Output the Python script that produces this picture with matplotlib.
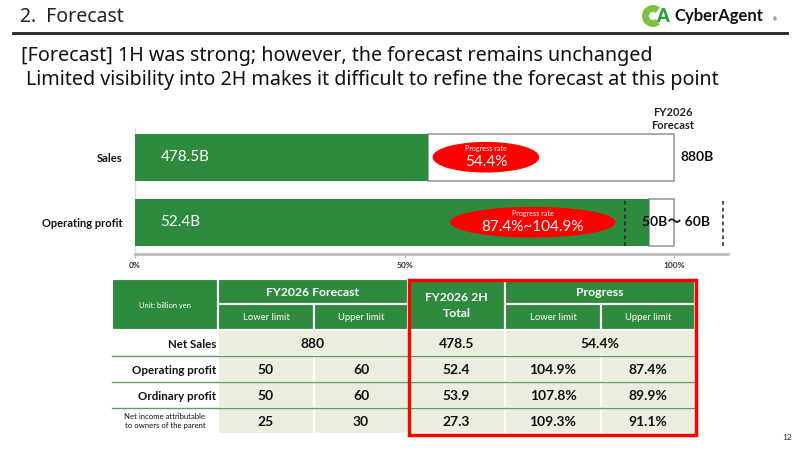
import matplotlib
matplotlib.use("Agg")
import matplotlib.pyplot as plt
import matplotlib.patches as mpatches
import numpy as np

plt.rcParams['font.family'] = ['Lato', 'Noto Sans CJK JP', 'DejaVu Sans']

# ---- data ----
categories = ["Sales", "Operating profit"]
actual_b = [478.5, 52.4]
fc_low_b = [880, 50]
fc_high_b = [880, 60]
bar_labels = ["478.5B", "52.4B"]
fc_labels = ["880B", "50B〜 60B"]
progress_text = ["54.4%", "87.4%~104.9%"]

row_labels = ["Net Sales", "Operating profit", "Ordinary profit",
              "Net income attributable\nto owners of the parent"]
tbl_lower = [880, 50, 50, 25]
tbl_upper = [880, 60, 60, 30]
tbl_2h = [478.5, 52.4, 53.9, 27.3]
prog_lower = [54.4, 104.9, 107.8, 109.3]
prog_upper = [54.4, 87.4, 89.9, 91.1]

GREEN = '#2E8B3E'
BEIGE = '#EBEEDF'
RED = '#FF0000'
HEAD_FONT = ['Noto Sans', 'DejaVu Sans']

fig = plt.figure(figsize=(8, 4.5), dpi=100)

# overlay in pixel coordinates for the slide layout
ov = fig.add_axes([0, 0, 1, 1])
ov.set_xlim(0, 800)
ov.set_ylim(450, 0)
ov.axis('off')

# header
ov.text(20, 17, "2.  Forecast", fontsize=14, va='center', ha='left', weight='medium',
        color='#222222', family=HEAD_FONT)
ov.plot([13, 787], [33, 33], color='#222222', lw=2)
# logo mark
ov.add_patch(mpatches.Arc((653, 16), 15, 15, theta1=50, theta2=310, color='#7DC242', lw=5))
ov.text(656, 16.5, "A", fontsize=13, weight='heavy', color='#2FA03A', va='center', ha='left')
ov.text(674, 16, "CyberAgent", fontsize=12, weight='bold', color='#111111', va='center', ha='left')
ov.text(773, 20, "®", fontsize=3.5, color='#111111', va='center', ha='left')

ov.text(21, 56, "[Forecast] 1H was strong; however, the forecast remains unchanged",
        fontsize=14.2, va='center', ha='left', color='#111111', weight='medium', family=HEAD_FONT)
ov.text(26, 80, "Limited visibility into 2H makes it difficult to refine the forecast at this point",
        fontsize=14.2, va='center', ha='left', color='#111111', weight='medium', family=HEAD_FONT)

ov.text(673, 119, "FY2026\nForecast", fontsize=8, weight='bold', ha='center', va='center',
        linespacing=1.2, color='#222222')
ov.text(792, 438, "12", fontsize=6, ha='right', va='center', color='#333333')

# ---- bar chart ----
ax = fig.add_axes([135 / 800, (450 - 254) / 450, 593 / 800, 126 / 450])
ax.patch.set_alpha(0)
ax.set_xlim(0, 110)
ax.set_ylim(-0.49, 1.45)
ypos = [1, 0]
h = 0.72
for i in range(len(categories)):
    mid = (fc_low_b[i] + fc_high_b[i]) / 2
    pct = actual_b[i] / mid * 100
    y = ypos[i]
    ax.barh(y, 100 - pct, left=pct, height=h, color='white', edgecolor='#999999', lw=1.2, zorder=2)
    ax.barh(y, pct, height=h, color=GREEN, edgecolor='none', zorder=3)
    ax.text(4.7, y, bar_labels[i], color='white', fontsize=11, va='center', ha='left', zorder=5)
    if fc_low_b[i] != fc_high_b[i]:
        for lim in (fc_low_b[i], fc_high_b[i]):
            ax.vlines(lim / mid * 100, y - h / 2, y + h / 2, colors='#222222',
                      linestyles=(0, (2.5, 2)), lw=1.1, zorder=4)

# progress ellipses
ell = [(65.1, 19.5), (73.8, 30.4)]
for i, (cx, w) in enumerate(ell):
    y = ypos[i]
    ax.add_patch(mpatches.Ellipse((cx, y), w, 0.45, color=RED, zorder=6))
    ax.text(cx, y + 0.14, "Progress rate", color='white', fontsize=5.2, ha='center', va='center', zorder=7)
    ax.text(cx, y - 0.07, progress_text[i], color='white', fontsize=11, ha='center', va='center', zorder=7)

ax.text(101.2, 1, fc_labels[0], fontsize=10, weight='bold', va='center', ha='left', color='#111111')
ax.text(94.0, 0, fc_labels[1], fontsize=10, weight='bold', va='center', ha='left', color='#111111', zorder=8)

ax.set_yticks(ypos)
ax.set_yticklabels(categories, fontsize=8, weight='bold', color='#111111')
ax.set_xticks([0, 50, 100])
ax.set_xticklabels(["0%", "50%", "100%"], fontsize=6, weight='bold', color='#333333')
ax.tick_params(axis='y', length=0, pad=9)
ax.tick_params(axis='x', length=3, color='#BBBBBB', pad=3)
for s in ('top', 'right'):
    ax.spines[s].set_visible(False)
ax.spines['bottom'].set_color('#BBBBBB')
ax.spines['bottom'].set_linewidth(2)
ax.spines['left'].set_color('#DDDDDD')
ax.spines['left'].set_linewidth(1)

# ---- table (pixel layout) ----
cols = [112, 218, 314, 408, 505, 601, 695]
hdr = [279, 304, 330]
rows = [330, 356, 382, 408, 434]


def cell(x0, x1, y0, y1, fc):
    ov.add_patch(mpatches.Rectangle((x0, y0), x1 - x0, y1 - y0, facecolor=fc,
                                    edgecolor='white', lw=1.5, zorder=1))


def ctext(x0, x1, y0, y1, s, **kw):
    ov.text((x0 + x1) / 2, (y0 + y1) / 2 + 1, s, ha='center', va='center', zorder=3, **kw)


# header cells
cell(cols[0], cols[1], hdr[0], hdr[2], GREEN)
ctext(cols[0], cols[1], hdr[0], hdr[2], "Unit: billion yen", fontsize=5.4, color='white')
cell(cols[1], cols[3], hdr[0], hdr[1], GREEN)
ctext(cols[1], cols[3], hdr[0], hdr[1], "FY2026 Forecast", fontsize=8.8, color='white', weight='bold')
cell(cols[3], cols[4], hdr[0], hdr[2], GREEN)
ctext(cols[3], cols[4], hdr[0], hdr[2], "FY2026 2H\nTotal", fontsize=8.8, color='white', weight='bold',
      linespacing=1.5)
cell(cols[4], cols[6], hdr[0], hdr[1], GREEN)
ctext(cols[4], cols[6], hdr[0], hdr[1], "Progress", fontsize=8.8, color='white', weight='bold')
for c in (1, 2, 4, 5):
    cell(cols[c], cols[c + 1], hdr[1], hdr[2], GREEN)
    ctext(cols[c], cols[c + 1], hdr[1], hdr[2], "Lower limit" if c in (1, 4) else "Upper limit",
          fontsize=6.8, color='white')

# data cells
num_kw = dict(fontsize=10, weight='bold', color='#111111')
for r in range(len(row_labels)):
    y0, y1 = rows[r], rows[r + 1]
    cell(cols[0], cols[1], y0, y1, 'white')
    if r == len(row_labels) - 1:
        ov.text(165, (y0 + y1) / 2, row_labels[r], fontsize=5.6, ha='center', va='center',
                color='#111111', linespacing=1.4, zorder=3)
    else:
        ov.text(cols[1] - 2, (y0 + y1) / 2 + 1, row_labels[r], fontsize=8.3, weight='bold',
                ha='right', va='center', color='#111111', zorder=3)
    if tbl_lower[r] == tbl_upper[r]:
        cell(cols[1], cols[3], y0, y1, BEIGE)
        ctext(cols[1], cols[3], y0, y1, f"{tbl_lower[r]:g}", **num_kw)
    else:
        cell(cols[1], cols[2], y0, y1, BEIGE)
        cell(cols[2], cols[3], y0, y1, BEIGE)
        ctext(cols[1], cols[2], y0, y1, f"{tbl_lower[r]:g}", **num_kw)
        ctext(cols[2], cols[3], y0, y1, f"{tbl_upper[r]:g}", **num_kw)
    cell(cols[3], cols[4], y0, y1, BEIGE)
    ctext(cols[3], cols[4], y0, y1, f"{tbl_2h[r]:.1f}", **num_kw)
    if prog_lower[r] == prog_upper[r]:
        cell(cols[4], cols[6], y0, y1, BEIGE)
        ctext(cols[4], cols[6], y0, y1, f"{prog_lower[r]:.1f}%", **num_kw)
    else:
        cell(cols[4], cols[5], y0, y1, BEIGE)
        cell(cols[5], cols[6], y0, y1, BEIGE)
        ctext(cols[4], cols[5], y0, y1, f"{prog_lower[r]:.1f}%", **num_kw)
        ctext(cols[5], cols[6], y0, y1, f"{prog_upper[r]:.1f}%", **num_kw)
    if r > 0:
        ov.plot([cols[0], cols[6]], [y0, y0], color='#5FA060', lw=1, zorder=2)

ov.add_patch(mpatches.Rectangle((409, 280), 287, 155, facecolor='none', edgecolor=RED, lw=2.5, zorder=4))

fig.savefig("out.png", dpi=100)
